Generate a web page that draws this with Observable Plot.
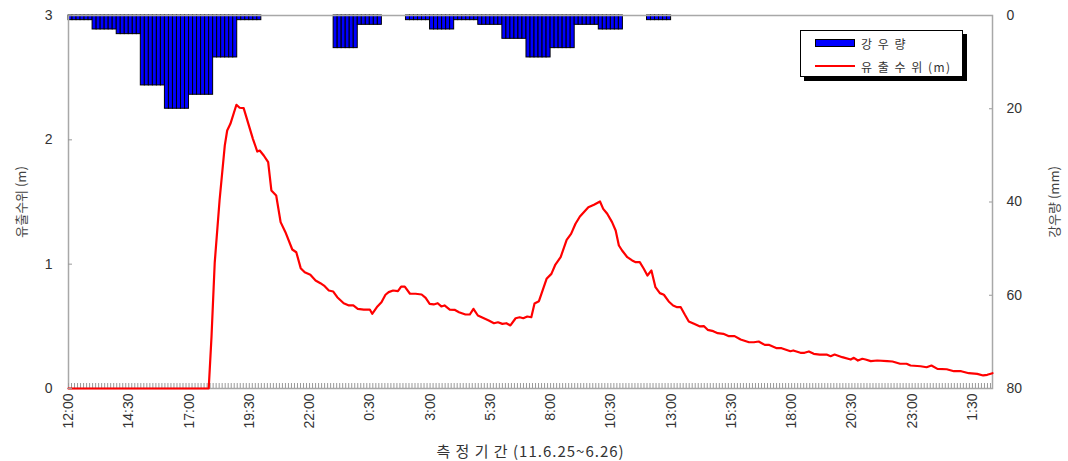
<!DOCTYPE html>
<html><head><meta charset="utf-8">
<script src="https://cdn.jsdelivr.net/npm/d3@7"></script>
<script src="https://cdn.jsdelivr.net/npm/@observablehq/plot@0.6"></script>
<style>
body{margin:0;background:#fff;}
#wrap{position:relative;width:1068px;height:461px;background:#fff;}
#wrap svg{position:absolute;left:0;top:0;background:transparent;}
g[aria-label="y-axis label"] text{font-size:13px;fill:#444;stroke:none;font-family:"Noto Sans CJK KR",sans-serif;}
g[aria-label="x-axis label"] text{font-size:15px;letter-spacing:1px;fill:#333;stroke:none;font-family:"Noto Sans CJK KR",sans-serif;}
.legend{position:absolute;left:800px;top:30px;width:163px;height:47px;border:1px solid #000;background:#fff;box-shadow:4px 4px 0 #000;box-sizing:border-box;font-family:"Noto Sans CJK KR",sans-serif;font-size:12px;color:#333;}
.legend .row{position:absolute;left:14px;height:14px;display:flex;align-items:center;letter-spacing:1.5px;}
.legend .sw{width:38px;height:6px;background:#0000ff;border:1px solid #000;margin-right:6px;}
.legend .ln{width:40px;height:2px;background:#ff0000;margin-right:6px;}
</style></head><body><div id="wrap"></div>
<script>
// ---- data ----
const rainHour = [0,1,2,3,4,5,6,7,8,9,10,11,12,13,14,15,16,17,18,19,20,21,22,23,24]; // hours after 6/25 12:00
const rainMm   = [1,3,4,15,20,17,9,1,0,0,0,7,2,0,1,3,1,2,5,9,7,2,3,0,1];
const levelMin = [0,349,356,364,376,389,395,403,418,426,436,459,470,476,486,497,505,517,528,540,557,567,578,588,602,615,627,636,648,659,669,685,698,709,720,735,750,756,769,779,789,797,808,820,828,837,850,864,879,889,899,909,919,928,936,949,961,972,988,999,1008,1019,1034,1046,1059,1069,1080,1090,1100,1113,1123,1132,1142,1152,1160,1171,1190,1202,1212,1225,1240,1251,1262,1273,1294,1308,1323,1331,1341,1353,1362,1370,1378,1391,1403,1412,1422,1432,1441,1451,1461,1472,1482,1494,1505,1515,1524,1534,1544,1557,1572,1582,1591,1605,1616,1630,1644,1658,1673,1694,1706,1718,1733,1743,1763,1775,1797,1804,1822,1832,1843,1855,1870,1887,1897,1907,1926,1947,1955,1965,1976,1984,1997,2013,2038,2051,2070,2086,2096,2121,2136,2148,2163,2186,2204,2222,2241,2262,2277,2287,2300];
const levelM   = [0,0,0.418,1.013,1.512,1.954,2.075,2.129,2.282,2.258,2.255,2.008,1.906,1.914,1.874,1.820,1.593,1.552,1.338,1.257,1.118,1.096,0.968,0.935,0.914,0.869,0.847,0.828,0.788,0.780,0.734,0.686,0.668,0.668,0.641,0.635,0.635,0.601,0.660,0.694,0.754,0.775,0.788,0.783,0.820,0.820,0.762,0.762,0.756,0.729,0.681,0.676,0.686,0.660,0.668,0.635,0.633,0.614,0.595,0.595,0.641,0.587,0.565,0.547,0.525,0.533,0.520,0.525,0.507,0.565,0.573,0.565,0.579,0.573,0.684,0.702,0.882,0.922,0.997,1.056,1.196,1.244,1.325,1.383,1.458,1.478,1.504,1.445,1.405,1.338,1.271,1.150,1.110,1.056,1.030,1.016,1.016,0.963,0.909,0.949,0.815,0.767,0.754,0.700,0.668,0.654,0.654,0.595,0.539,0.520,0.499,0.501,0.472,0.461,0.445,0.440,0.421,0.421,0.394,0.372,0.372,0.378,0.351,0.351,0.324,0.324,0.300,0.306,0.287,0.287,0.298,0.279,0.273,0.273,0.260,0.273,0.252,0.233,0.247,0.225,0.239,0.233,0.220,0.225,0.220,0.217,0.199,0.199,0.185,0.179,0.171,0.185,0.158,0.155,0.139,0.139,0.123,0.118,0.105,0.110,0.123];
const xTickMin   = [0,150,300,450,600,750,900,1050,1200,1350,1500,1650,1800,1950,2100,2250];
const xTickLabel = ["12:00","14:30","17:00","19:30","22:00","0:30","3:00","5:30","8:00","10:30","13:00","15:30","18:00","20:30","23:00","1:30"];
const yLeftTicks  = [0,1,2,3];
const yRightTicks = [0,20,40,60,80];
const xEnd = 2300;

// ---- derived tables ----
const rain10 = rainHour.flatMap((h, i) => d3.range(6).map(k => ({m: h * 60 + k * 10, mm: rainMm[i]}))).filter(d => d.mm > 0);
const level = levelMin.map((m, i) => ({m, v: levelM[i]}));
const minorTicks = d3.range(0, xEnd, 7.5);

const common = {
  width: 1068, height: 461, marginLeft: 68, marginRight: 76, marginTop: 15, marginBottom: 73,
  style: {fontFamily: "'Liberation Sans','Noto Sans CJK KR',sans-serif", fontSize: "14px", color: "#333", background: "transparent"}
};

const rainPlot = Plot.plot({
  ...common,
  x: {domain: [0, xEnd], axis: null},
  y: {domain: [0, 80], reverse: true},
  marks: [
    Plot.rect(rain10, {x1: "m", x2: d => d.m + 10, y1: 0, y2: "mm", fill: "#0000ff", stroke: "#000", strokeWidth: 1}),
    Plot.axisY(yRightTicks, {anchor: "right", tickSize: -4, tickPadding: 18, stroke: "#999", fill: "#333", tickFormat: d => String(d), label: "강우량 (mm)", labelAnchor: "center", labelOffset: 66, labelArrow: false})
  ]
});

const levelPlot = Plot.plot({
  ...common,
  x: {domain: [0, xEnd]},
  y: {domain: [0, 3]},
  marks: [
    Plot.frame({stroke: "#a8a8a8", strokeWidth: 1.5}),
    Plot.ruleX(minorTicks, {x: d => d, y1: 0, y2: 0.04, stroke: "#999", strokeWidth: 1}),
    Plot.line(level, {x: "m", y: "v", stroke: "#ff0000", strokeWidth: 2.2}),
    Plot.axisY(yLeftTicks, {anchor: "left", tickSize: -4, tickPadding: 20, stroke: "#999", fill: "#333", tickFormat: d => String(d), label: "유출수위 (m)", labelAnchor: "center", labelOffset: 52, labelArrow: false}),
    Plot.axisX(xTickMin, {anchor: "bottom", tickSize: 0, tickPadding: 5, tickRotate: -90, fill: "#333", tickFormat: d => xTickLabel[xTickMin.indexOf(d)], label: "측 정 기 간 (11.6.25~6.26)", labelAnchor: "center", labelOffset: 68, labelArrow: false})
  ]
});

const wrap = document.getElementById("wrap");
wrap.appendChild(rainPlot);
wrap.appendChild(levelPlot);

const lg = document.createElement("div");
lg.className = "legend";
lg.innerHTML = '<div class="row" style="top:5px"><div class="sw"></div>강 우 량</div>' +
               '<div class="row" style="top:28px"><div class="ln"></div>유 출 수 위 (m)</div>';
wrap.appendChild(lg);
</script></body></html>
